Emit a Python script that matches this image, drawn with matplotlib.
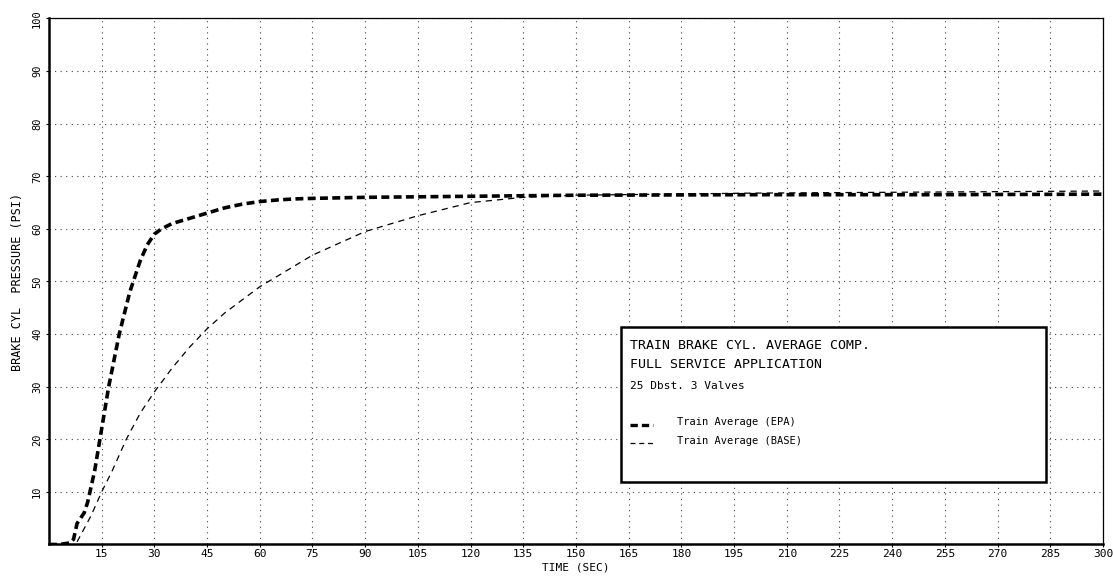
import matplotlib
matplotlib.use("Agg")
import matplotlib.pyplot as plt
from matplotlib.patches import Rectangle
from matplotlib.lines import Line2D

# Data
t_epa = [0, 3, 6, 7, 8, 9, 10, 11, 12, 13, 14, 15, 17, 20, 23, 26, 28, 30, 32, 35, 40, 45, 50, 55, 60, 65, 70, 75, 90, 105, 120, 150, 200, 250, 300]
p_epa = [0, 0, 0.3, 1, 4, 5, 6, 8, 11, 14, 18, 22, 30, 40, 48, 54, 57, 59, 60, 61, 62, 63, 64, 64.7, 65.2, 65.5, 65.7, 65.8, 66, 66.1, 66.2, 66.4, 66.5, 66.5, 66.6]
t_base = [8, 10, 12, 15, 18, 22, 26, 30, 35, 40, 45, 50, 60, 75, 90, 105, 120, 135, 150, 200, 250, 300]
p_base = [0.5, 3, 5.5, 10, 14, 20, 25, 29, 33.5, 37.5, 41, 44, 49, 55, 59.5, 62.5, 65, 66, 66.4, 66.8, 67, 67.2]

xticks = list(range(15, 301, 15))
yticks = list(range(10, 101, 10))

title_lines = ["TRAIN BRAKE CYL. AVERAGE COMP.", "FULL SERVICE APPLICATION"]
subtitle = "25 Dbst. 3 Valves"
labels = ["Train Average (EPA)", "Train Average (BASE)"]

plt.rcParams['font.family'] = ['DejaVu Sans Mono']

fig = plt.figure(figsize=(11.13, 5.78), dpi=100)
ax = fig.add_axes([0.044, 0.058, 0.947, 0.910])
ax.set_xlim(0, 300)
ax.set_ylim(0, 100)

ax.plot(t_epa, p_epa, color='black', lw=2.6, ls=(0, (2.2, 1.2)))
ax.plot(t_base, p_base, color='black', lw=0.9, ls=(0, (5, 4)))

ax.set_xticks(xticks)
ax.set_yticks(yticks)
ax.set_xticklabels([str(v) for v in xticks], fontsize=8)
ax.set_yticklabels([str(v) for v in yticks], fontsize=7.5, rotation=90, va='center')
ax.tick_params(axis='x', direction='out', length=2, width=0.8, pad=1.5)
ax.tick_params(axis='y', direction='out', length=2, width=0.8, pad=3)
ax.grid(True, color='#444444', ls=(0, (1, 4)), lw=0.8)

for s in ['left', 'bottom']:
    ax.spines[s].set_linewidth(1.8)
for s in ['top', 'right']:
    ax.spines[s].set_linewidth(0.9)

ax.set_xlabel("TIME (SEC)", fontsize=8, labelpad=2)
ax.set_ylabel("BRAKE CYL  PRESSURE (PSI)", fontsize=8.5, labelpad=6)

# legend box
bx0, by0, bx1, by1 = 0.543, 0.118, 0.946, 0.413
ax.add_patch(Rectangle((bx0, by0), bx1 - bx0, by1 - by0, transform=ax.transAxes,
                       facecolor='white', edgecolor='black', lw=1.8, zorder=5))
tx = bx0 + 0.008
ax.text(tx, 0.378, title_lines[0], transform=ax.transAxes, fontsize=9.5, va='center', zorder=6)
ax.text(tx, 0.342, title_lines[1], transform=ax.transAxes, fontsize=9.5, va='center', zorder=6)
ax.text(tx, 0.302, subtitle, transform=ax.transAxes, fontsize=8, va='center', zorder=6)
ax.add_line(Line2D([tx, tx + 0.022], [0.228, 0.228], transform=ax.transAxes,
                   color='black', lw=2.4, ls=(0, (2.2, 1.2)), zorder=6))
ax.add_line(Line2D([tx, tx + 0.022], [0.192, 0.192], transform=ax.transAxes,
                   color='black', lw=0.9, ls=(0, (4, 3)), zorder=6))
ax.text(tx + 0.045, 0.232, labels[0], transform=ax.transAxes, fontsize=7.5, va='center', zorder=6)
ax.text(tx + 0.045, 0.196, labels[1], transform=ax.transAxes, fontsize=7.5, va='center', zorder=6)

fig.savefig("out.png", dpi=100)
